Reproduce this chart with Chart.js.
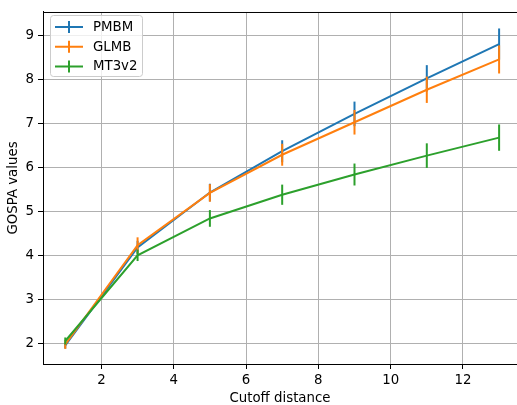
<!DOCTYPE html>
<html lang="en">
<head>
    <meta charset="UTF-8">
    <title>GOSPA vs cutoff distance</title>
    <script src="https://cdn.jsdelivr.net/npm/chart.js"></script>
    <style>
        body {
            margin: 0;
            background-color: white;
        }
    </style>
</head>
<body>
    <canvas id="myChart" width="517" height="405"></canvas>

    <script>
        // values
        const cutoff = [1, 3, 5, 7, 9, 11, 13];

        const pmbm = [1.95, 4.18, 5.43, 6.37, 7.22, 8.03, 8.81];
        const pmbmErr = [0.07, 0.15, 0.2, 0.25, 0.28, 0.3, 0.355];

        const glmb = [1.97, 4.23, 5.42, 6.29, 7.03, 7.77, 8.46];
        const glmbErr = [0.1, 0.18, 0.2, 0.25, 0.28, 0.3, 0.32];

        const mt3 = [2.05, 4.0, 4.84, 5.38, 5.84, 6.27, 6.68];
        const mt3Err = [0.08, 0.13, 0.19, 0.23, 0.25, 0.28, 0.3];

        const xTicks = [2, 4, 6, 8, 10, 12];
        const yTicks = [2, 3, 4, 5, 6, 7, 8, 9];

        const fontFamily = "'DejaVu Sans', sans-serif";
        const fontSize = 13.33;

        function points(ys) {
            return cutoff.map((x, i) => ({ x: x, y: ys[i] }));
        }

        // vertical error bars, drawn right after each line
        const errorBars = {
            id: 'errorBars',
            afterDatasetDraw(chart, args) {
                const ds = chart.data.datasets[args.index];
                const xScale = chart.scales.x;
                const yScale = chart.scales.y;
                const ctx = chart.ctx;
                ctx.save();
                ctx.strokeStyle = ds.borderColor;
                ctx.lineWidth = 2;
                ds.data.forEach((p, i) => {
                    const px = xScale.getPixelForValue(p.x);
                    ctx.beginPath();
                    ctx.moveTo(px, yScale.getPixelForValue(p.y - ds.errors[i]));
                    ctx.lineTo(px, yScale.getPixelForValue(p.y + ds.errors[i]));
                    ctx.stroke();
                });
                ctx.restore();
            }
        };

        // top spine and matplotlib style legend
        const frameAndLegend = {
            id: 'frameAndLegend',
            afterDraw(chart) {
                const ctx = chart.ctx;
                const area = chart.chartArea;
                ctx.save();
                ctx.strokeStyle = '#000';
                ctx.lineWidth = 1;
                ctx.beginPath();
                ctx.moveTo(area.left, area.top + 0.5);
                ctx.lineTo(area.right, area.top + 0.5);
                ctx.stroke();

                // legend box
                const bx = 50.5, by = 15.5, bw = 92, bh = 61, r = 3;
                ctx.beginPath();
                ctx.moveTo(bx + r, by);
                ctx.arcTo(bx + bw, by, bx + bw, by + bh, r);
                ctx.arcTo(bx + bw, by + bh, bx, by + bh, r);
                ctx.arcTo(bx, by + bh, bx, by, r);
                ctx.arcTo(bx, by, bx + bw, by, r);
                ctx.closePath();
                ctx.fillStyle = 'rgba(255,255,255,0.8)';
                ctx.fill();
                ctx.strokeStyle = '#cccccc';
                ctx.stroke();

                ctx.font = fontSize + 'px ' + fontFamily;
                ctx.textBaseline = 'middle';
                ctx.textAlign = 'left';
                const rows = [27, 46.7, 66.4];
                chart.data.datasets.forEach((ds, i) => {
                    const y = rows[i];
                    ctx.strokeStyle = ds.borderColor;
                    ctx.lineWidth = 2;
                    ctx.beginPath();
                    ctx.moveTo(55, y);
                    ctx.lineTo(83, y);
                    ctx.moveTo(69, y - 6);
                    ctx.lineTo(69, y + 6);
                    ctx.stroke();
                    ctx.fillStyle = '#000';
                    ctx.fillText(ds.label, 93, y + 0.5);
                });
                ctx.restore();
            }
        };

        const ctx = document.getElementById('myChart').getContext('2d');

        const chart = new Chart(ctx, {
            type: 'line',
            data: {
                datasets: [{
                    label: 'PMBM',
                    data: points(pmbm),
                    errors: pmbmErr,
                    borderColor: '#1f77b4',
                    order: 2
                }, {
                    label: 'GLMB',
                    data: points(glmb),
                    errors: glmbErr,
                    borderColor: '#ff7f0e',
                    order: 1
                }, {
                    label: 'MT3v2',
                    data: points(mt3),
                    errors: mt3Err,
                    borderColor: '#2ca02c',
                    order: 0
                }]
            },
            options: {
                responsive: false,
                animation: false,
                devicePixelRatio: 1,
                layout: {
                    padding: { top: 9, right: 0, left: 0, bottom: 0 }
                },
                elements: {
                    line: { borderWidth: 2, tension: 0, fill: false },
                    point: { radius: 0, hoverRadius: 0 }
                },
                plugins: {
                    legend: { display: false },
                    tooltip: { enabled: false }
                },
                scales: {
                    x: {
                        type: 'linear',
                        min: 0.384,
                        max: 13.495,
                        afterBuildTicks: scale => {
                            scale.ticks = xTicks.map(v => ({ value: v }));
                        },
                        afterFit: scale => {
                            scale.height = 41;
                        },
                        grid: {
                            color: '#b0b0b0',
                            lineWidth: 1,
                            tickColor: '#000',
                            tickLength: 5,
                            tickWidth: 1
                        },
                        border: { color: '#000', width: 1 },
                        ticks: {
                            color: '#000',
                            padding: 4,
                            maxRotation: 0,
                            font: { family: fontFamily, size: fontSize }
                        },
                        title: {
                            display: true,
                            text: 'Cutoff distance',
                            color: '#000',
                            padding: { top: 0, bottom: 0 },
                            font: { family: fontFamily, size: fontSize, lineHeight: 1 }
                        }
                    },
                    y: {
                        type: 'linear',
                        min: 1.526,
                        max: 9.54,
                        afterBuildTicks: scale => {
                            scale.ticks = yTicks.map(v => ({ value: v }));
                        },
                        afterFit: scale => {
                            scale.width = 43;
                        },
                        grid: {
                            color: '#b0b0b0',
                            lineWidth: 1,
                            tickColor: '#000',
                            tickLength: 5,
                            tickWidth: 1
                        },
                        border: { color: '#000', width: 1 },
                        ticks: {
                            color: '#000',
                            padding: 4,
                            font: { family: fontFamily, size: fontSize }
                        },
                        title: {
                            display: true,
                            text: 'GOSPA values',
                            color: '#000',
                            padding: { top: 7, bottom: 0 },
                            font: { family: fontFamily, size: fontSize, lineHeight: 1 }
                        }
                    }
                }
            },
            plugins: [errorBars, frameAndLegend]
        });
    </script>
</body>
</html>
